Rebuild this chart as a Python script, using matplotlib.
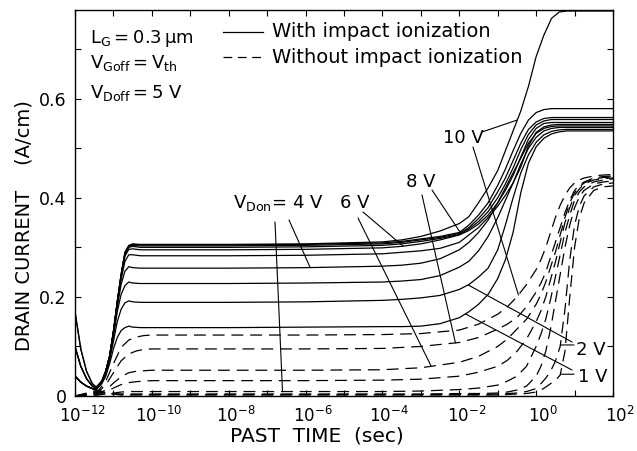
import numpy as np
import matplotlib
matplotlib.use("Agg")
import matplotlib.pyplot as plt
from matplotlib.ticker import FixedLocator, FuncFormatter, NullLocator, MultipleLocator
from matplotlib.transforms import ScaledTranslation

plt.rcParams['font.family'] = ['DejaVu Sans']
plt.rcParams['mathtext.fontset'] = 'dejavusans'

# ---------------- data (log10 of time in s, drain current in A/cm) ----------------
T_S = [-12, -11.85, -11.7, -11.55, -11.45, -11.3, -11.2, -11.1, -11.0, -10.9, -10.8, -10.7,
       -10.6, -10.5, -10.3, -10, -8, -6, -4, -3.5, -3, -2.5, -2, -1.75, -1.5, -1.25, -1,
       -0.8, -0.6, -0.4, -0.2, 0, 0.2, 0.4, 0.6, 0.8, 1.0, 1.5, 2]

# with impact ionization (solid), V_Don = 1 ... 10 V
s1 = [0.04, 0.028, 0.02, 0.015, 0.013, 0.025, 0.04, 0.065, 0.095, 0.118, 0.132, 0.138, 0.141, 0.139, 0.138,
      0.138, 0.138, 0.139, 0.140, 0.140, 0.141, 0.146, 0.158, 0.170, 0.185, 0.205, 0.237, 0.275, 0.330,
      0.410, 0.470, 0.503, 0.520, 0.529, 0.533, 0.535, 0.535, 0.535, 0.535]
s2 = [0.04, 0.028, 0.02, 0.015, 0.013, 0.028, 0.045, 0.072, 0.11, 0.15, 0.175, 0.188, 0.192, 0.190, 0.189,
      0.189, 0.189, 0.190, 0.193, 0.195, 0.198, 0.203, 0.215, 0.225, 0.240, 0.258, 0.295, 0.345, 0.400,
      0.450, 0.487, 0.512, 0.527, 0.534, 0.537, 0.538, 0.538, 0.538, 0.538]
s3 = [0.04, 0.028, 0.02, 0.015, 0.013, 0.03, 0.048, 0.076, 0.12, 0.17, 0.205, 0.223, 0.230, 0.228, 0.227,
      0.227, 0.227, 0.228, 0.230, 0.232, 0.235, 0.243, 0.260, 0.272, 0.293, 0.322, 0.360, 0.395, 0.430,
      0.468, 0.500, 0.522, 0.535, 0.540, 0.542, 0.542, 0.542, 0.542, 0.542]
s4 = [0.04, 0.028, 0.02, 0.015, 0.013, 0.03, 0.05, 0.078, 0.125, 0.18, 0.225, 0.252, 0.261, 0.259, 0.258,
      0.258, 0.258, 0.259, 0.262, 0.264, 0.268, 0.277, 0.295, 0.310, 0.330, 0.355, 0.390, 0.420, 0.450,
      0.480, 0.510, 0.530, 0.540, 0.544, 0.545, 0.545, 0.545, 0.545, 0.545]
s5 = [0.04, 0.028, 0.02, 0.015, 0.013, 0.03, 0.05, 0.08, 0.128, 0.185, 0.235, 0.272, 0.285, 0.285, 0.283,
      0.283, 0.283, 0.284, 0.287, 0.290, 0.293, 0.298, 0.310, 0.325, 0.340, 0.360, 0.383, 0.405, 0.430,
      0.462, 0.505, 0.532, 0.543, 0.547, 0.548, 0.548, 0.548, 0.548, 0.548]
s6 = [0.10, 0.06, 0.035, 0.02, 0.015, 0.03, 0.05, 0.08, 0.13, 0.19, 0.24, 0.282, 0.296, 0.297, 0.295,
      0.295, 0.295, 0.296, 0.299, 0.302, 0.307, 0.315, 0.325, 0.334, 0.347, 0.365, 0.390, 0.415, 0.445,
      0.482, 0.518, 0.540, 0.550, 0.552, 0.552, 0.552, 0.552, 0.552, 0.552]
s7 = [0.10, 0.06, 0.035, 0.02, 0.015, 0.03, 0.05, 0.08, 0.13, 0.19, 0.243, 0.286, 0.300, 0.302, 0.300,
      0.300, 0.300, 0.301, 0.304, 0.307, 0.312, 0.318, 0.326, 0.337, 0.352, 0.372, 0.400, 0.428, 0.460,
      0.497, 0.528, 0.547, 0.555, 0.558, 0.558, 0.558, 0.558, 0.558, 0.558]
s8 = [0.10, 0.06, 0.035, 0.02, 0.015, 0.03, 0.05, 0.08, 0.13, 0.19, 0.245, 0.288, 0.302, 0.304, 0.303,
      0.303, 0.303, 0.304, 0.307, 0.310, 0.315, 0.320, 0.328, 0.340, 0.358, 0.380, 0.412, 0.440, 0.475,
      0.510, 0.538, 0.553, 0.560, 0.562, 0.562, 0.562, 0.562, 0.562, 0.562]
s9 = [0.17, 0.095, 0.05, 0.025, 0.018, 0.03, 0.05, 0.08, 0.13, 0.19, 0.245, 0.29, 0.303, 0.306, 0.305,
      0.305, 0.305, 0.306, 0.309, 0.312, 0.317, 0.322, 0.330, 0.345, 0.365, 0.390, 0.425, 0.458, 0.495,
      0.530, 0.557, 0.572, 0.578, 0.580, 0.580, 0.580, 0.580, 0.580, 0.580]
s10 = [0.17, 0.095, 0.05, 0.025, 0.018, 0.03, 0.05, 0.08, 0.13, 0.19, 0.245, 0.29, 0.304, 0.307, 0.306,
       0.306, 0.306, 0.307, 0.311, 0.315, 0.322, 0.333, 0.348, 0.362, 0.390, 0.420, 0.455, 0.495, 0.535,
       0.575, 0.625, 0.685, 0.728, 0.762, 0.775, 0.777, 0.777, 0.777, 0.777]

T_D = [-12, -11.6, -11.4, -11.2, -11.0, -10.8, -10.6, -10.4, -10.2, -10, -8, -6, -4, -3, -2, -1.5, -1,
       -0.75, -0.5, -0.25, 0, 0.125, 0.25, 0.375, 0.5, 0.625, 0.75, 0.875, 1.0, 1.125, 1.25, 1.5, 1.75, 2]

# without impact ionization (dashed)
d1 = [0.0, 0.008, 0.012, 0.007, 0.004, 0.002, 0.002, 0.002, 0.002, 0.002, 0.002, 0.002, 0.002, 0.002,
      0.002, 0.002, 0.002, 0.003, 0.004, 0.005, 0.008, 0.012, 0.018, 0.025, 0.032, 0.042, 0.09, 0.20,
      0.30, 0.36, 0.39, 0.415, 0.422, 0.424]
d2 = [0.0, 0.006, 0.01, 0.006, 0.004, 0.003, 0.003, 0.003, 0.003, 0.003, 0.003, 0.003, 0.003, 0.003,
      0.003, 0.003, 0.004, 0.005, 0.006, 0.009, 0.015, 0.025, 0.036, 0.050, 0.070, 0.100, 0.175, 0.275,
      0.345, 0.383, 0.404, 0.422, 0.428, 0.430]
d3 = [0.0, 0.004, 0.008, 0.006, 0.005, 0.004, 0.004, 0.004, 0.004, 0.004, 0.004, 0.004, 0.004, 0.004,
      0.005, 0.005, 0.006, 0.008, 0.012, 0.020, 0.040, 0.060, 0.090, 0.135, 0.190, 0.245, 0.300, 0.345,
      0.380, 0.402, 0.415, 0.428, 0.432, 0.434]
d4 = [0.0, 0.001, 0.002, 0.004, 0.006, 0.008, 0.009, 0.009, 0.009, 0.009, 0.009, 0.009, 0.009, 0.010,
      0.013, 0.016, 0.022, 0.030, 0.040, 0.060, 0.100, 0.125, 0.155, 0.195, 0.240, 0.285, 0.330, 0.365,
      0.395, 0.412, 0.422, 0.432, 0.436, 0.438]
d5 = [0.0, 0.001, 0.003, 0.008, 0.016, 0.023, 0.027, 0.029, 0.030, 0.031, 0.031, 0.031, 0.032, 0.034,
      0.040, 0.048, 0.060, 0.072, 0.090, 0.115, 0.150, 0.172, 0.200, 0.235, 0.270, 0.310, 0.350, 0.380,
      0.405, 0.418, 0.428, 0.436, 0.439, 0.440]
d6 = [0.0, 0.002, 0.005, 0.012, 0.026, 0.039, 0.047, 0.050, 0.051, 0.052, 0.052, 0.052, 0.053, 0.057,
      0.068, 0.080, 0.100, 0.115, 0.135, 0.155, 0.185, 0.205, 0.230, 0.260, 0.290, 0.325, 0.360, 0.390,
      0.410, 0.422, 0.430, 0.438, 0.441, 0.442]
d8 = [0.0, 0.002, 0.008, 0.022, 0.047, 0.071, 0.085, 0.091, 0.094, 0.095, 0.095, 0.095, 0.096, 0.100,
      0.108, 0.118, 0.135, 0.145, 0.158, 0.180, 0.210, 0.228, 0.250, 0.280, 0.310, 0.340, 0.370, 0.395,
      0.415, 0.426, 0.432, 0.440, 0.443, 0.444]
d10 = [0.0, 0.003, 0.010, 0.030, 0.065, 0.098, 0.113, 0.119, 0.122, 0.123, 0.123, 0.123, 0.124, 0.126,
       0.133, 0.145, 0.165, 0.180, 0.200, 0.225, 0.255, 0.275, 0.300, 0.330, 0.360, 0.385, 0.405, 0.420,
       0.430, 0.436, 0.440, 0.444, 0.446, 0.447]

solid = {1: s1, 2: s2, 3: s3, 4: s4, 5: s5, 6: s6, 7: s7, 8: s8, 9: s9, 10: s10}
dashed = {1: d1, 2: d2, 3: d3, 4: d4, 5: d5, 6: d6, 8: d8, 10: d10}

x_major = list(range(-12, 3))

# ---------------- figure ----------------
W, H = 637, 451
fig = plt.figure(figsize=(W / 100, H / 100), dpi=100)
L, R, B, T = 75, 613, 396, 9.5
ax = fig.add_axes([L / W, 1 - B / H, (R - L) / W, (B - T) / H])

lw = 0.9
for v, ys in solid.items():
    ax.plot(10.0 ** np.array(T_S), ys, color='black', lw=lw, solid_joinstyle='round')
for v, ys in dashed.items():
    ax.plot(10.0 ** np.array(T_D), ys, color='black', lw=lw, ls=(0, (9.5, 5.5)))

ax.set_xscale('log')
ax.set_xlim(1e-12, 1e2)
ax.set_ylim(0, 0.78)

ax.xaxis.set_major_locator(FixedLocator([10.0 ** e for e in x_major]))
ax.xaxis.set_minor_locator(NullLocator())


def xfmt(val, pos):
    e = int(round(np.log10(val)))
    return r'$\mathregular{10^{%d}}$' % e if e % 2 == 0 else ''


ax.xaxis.set_major_formatter(FuncFormatter(xfmt))
ax.yaxis.set_major_locator(FixedLocator([0, 0.2, 0.4, 0.6]))
ax.yaxis.set_minor_locator(MultipleLocator(0.1))
ax.yaxis.set_major_formatter(FuncFormatter(lambda v, p: '0' if v == 0 else '%.1f' % v))

ax.tick_params(which='both', direction='in', top=True, right=True, length=4, width=0.8,
               labelsize=12.5, colors='black')
ax.tick_params(axis='x', pad=7, labelsize=12)
ax.tick_params(axis='y', pad=6)
for sp in ax.spines.values():
    sp.set_linewidth(1.0)

off = ScaledTranslation(5 / 72, 0, fig.dpi_scale_trans)
for lab in ax.xaxis.get_majorticklabels():
    lab.set_transform(lab.get_transform() + off)

fig.text(317 / W, 1 - 436 / H, 'PAST  TIME  (sec)', ha='center', va='center', fontsize=14.5)
fig.text(24 / W, 1 - 226 / H, 'DRAIN CURRENT    (A/cm)', ha='center', va='center',
         rotation=90, fontsize=14)


def fx(px):
    return (px - L) / (R - L)


def fy(py):
    return (B - py) / (B - T)


tk = dict(transform=ax.transAxes, fontsize=13, va='baseline')
tl = dict(transform=ax.transAxes, fontsize=14, va='baseline')
ax.text(fx(90), fy(43.3), r'$\mathregular{L_G = 0.3\,\mu m}$', ha='left', **tk)
ax.text(fx(90), fy(68.3), r'$\mathregular{V_{Goff} = V_{th}}$', ha='left', **tk)
ax.text(fx(90), fy(97.7), r'$\mathregular{V_{Doff} = 5\ V}$', ha='left', **tk)

ax.plot([fx(222.7), fx(263)], [fy(32.3), fy(32.3)], transform=ax.transAxes, color='black', lw=lw)
ax.plot([fx(222.7), fx(263)], [fy(57.3), fy(57.3)], transform=ax.transAxes, color='black', lw=lw,
        ls=(0, (7, 4.5)))
ax.text(fx(271.7), fy(37.3), 'With impact ionization', ha='left', **tl)
ax.text(fx(271.7), fy(63.3), 'Without impact ionization', ha='left', **tl)

ax.text(fx(443), fy(143.3), '10 V', ha='left', **tk)
ax.text(fx(406), fy(186.7), '8 V', ha='left', **tk)
ax.text(fx(340), fy(208.3), '6 V', ha='left', **tk)
ax.text(fx(233), fy(208.3), r'$\mathregular{V_{Don}}$= 4 V', ha='left', **tk)
ax.text(fx(576), fy(355), '2 V', ha='left', **tk)
ax.text(fx(578), fy(381.7), '1 V', ha='left', **tk)


def pt(tgrid, ys, lt):
    return 10.0 ** lt, float(np.interp(lt, tgrid, ys))


ap = dict(arrowstyle='-', lw=0.8, color='black', shrinkA=0, shrinkB=0)
pointers = [
    ((275, 222), pt(T_D, d4, -6.6)),
    ((289, 220), pt(T_S, s4, -5.88)),
    ((363, 212), pt(T_S, s6, -3.46)),
    ((358, 218), pt(T_D, d6, -2.73)),
    ((432, 190), pt(T_S, s8, -1.97)),
    ((422, 195), pt(T_D, d8, -2.1)),
    ((482, 132), pt(T_S, s10, -0.49)),
    ((473, 147), pt(T_D, d10, -0.46)),
    ((572, 342), pt(T_S, s2, -1.77)),
    ((572, 370), pt(T_S, s1, -1.84)),
]
for (px, py), xy in pointers:
    ax.annotate('', xy=xy, xycoords='data', xytext=(fx(px), fy(py)), textcoords='axes fraction',
                arrowprops=ap)

for ys in (d2, d1):
    x0, y0 = pt(T_D, ys, 0.63)
    ax.annotate('', xy=(x0, y0), xycoords='data', xytext=(10 ** 0.985, y0), textcoords='data',
                arrowprops=ap)

fig.savefig('out.png', dpi=100)
